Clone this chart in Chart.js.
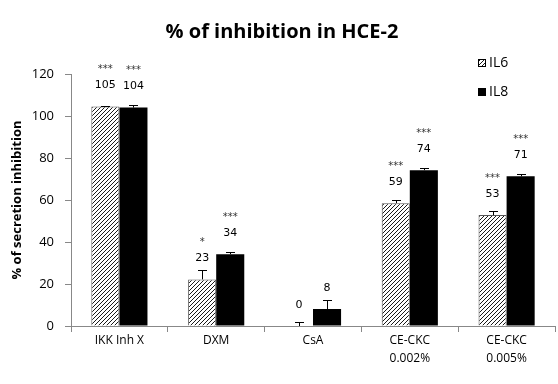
<!DOCTYPE html>
<html>
<head>
<meta charset="utf-8">
<script src="https://cdn.jsdelivr.net/npm/chart.js@4/dist/chart.umd.min.js"></script>
<style>
html,body{margin:0;padding:0;background:#fff;}
#wrap{width:558px;height:384px;}
</style>
</head>
<body>
<div id="wrap"><canvas id="c" width="558" height="384"></canvas></div>
<script>
const categories = [["IKK Inh X"], ["DXM"], ["CsA"], ["CE-CKC", "0.002%"], ["CE-CKC", "0.005%"]];
const seriesNames = ["IL6", "IL8"];
const il6Values = [104.5, 22.2, 0, 58.5, 52.8];
const il8Values = [104, 34.2, 8.1, 74.2, 71.3];
const il6Errors = [0.5, 4.5, 1.9, 1.5, 2.0];
const il8Errors = [1.3, 1.0, 4.3, 1.2, 1.0];
const il6Labels = ["105", "23", "0", "59", "53"];
const il8Labels = ["104", "34", "8", "74", "71"];
const il6Stars = ["***", "*", "", "***", "***"];
const il8Stars = ["***", "***", "", "***", "***"];
const yTicks = [0, 20, 40, 60, 80, 100, 120];

function hatch() {
  const c = document.createElement('canvas');
  c.width = 4; c.height = 4;
  const x = c.getContext('2d');
  x.fillStyle = '#fff'; x.fillRect(0, 0, 4, 4);
  x.strokeStyle = '#000'; x.lineWidth = 0.9;
  x.beginPath();
  x.moveTo(-1, 5); x.lineTo(5, -1);
  x.moveTo(-1, 1); x.lineTo(1, -1);
  x.moveTo(3, 5); x.lineTo(5, 3);
  x.stroke();
  return x.createPattern(c, 'repeat');
}
const hatchPattern = hatch();

const errorsPlugin = {
  id: 'errs',
  afterDatasetsDraw(chart) {
    const ctx = chart.ctx, y = chart.scales.y;
    const errs = [il6Errors, il8Errors];
    const labs = [il6Labels, il8Labels];
    const stars = [il6Stars, il8Stars];
    ctx.save();
    chart.data.datasets.forEach((ds, di) => {
      const meta = chart.getDatasetMeta(di);
      meta.data.forEach((bar, i) => {
        const v = ds.data[i];
        const top = y.getPixelForValue(v);
        const et = y.getPixelForValue(v + errs[di][i]);
        ctx.strokeStyle = '#000'; ctx.lineWidth = 1;
        ctx.beginPath();
        ctx.moveTo(Math.round(bar.x) + 0.5, top);
        ctx.lineTo(Math.round(bar.x) + 0.5, Math.round(et) + 0.5);
        ctx.moveTo(Math.round(bar.x) - 4, Math.round(et) + 0.5);
        ctx.lineTo(Math.round(bar.x) + 5, Math.round(et) + 0.5);
        ctx.stroke();
        ctx.fillStyle = '#000';
        ctx.textAlign = 'center'; ctx.textBaseline = 'middle';
        ctx.font = '11px "DejaVu Sans"';
        const ly = top - 21;
        ctx.fillText(labs[di][i], bar.x, ly);
        ctx.fillStyle = '#333';
        ctx.font = '10px "DejaVu Sans"';
        if (stars[di][i]) ctx.fillText(stars[di][i], bar.x, ly - 16);
      });
    });
    // legend
    ctx.font = '14px "Open Sans"';
    ctx.textAlign = 'left'; ctx.textBaseline = 'middle';
    const items = [[hatchPattern, 63], ['#000', 92]];
    items.forEach((it, k) => {
      ctx.fillStyle = it[0];
      ctx.fillRect(478, it[1] - 4, 8, 8);
      ctx.strokeStyle = '#000'; ctx.lineWidth = 1;
      ctx.strokeRect(478.5, it[1] - 3.5, 7, 7);
      ctx.fillStyle = '#000';
      ctx.fillText(seriesNames[k], 489, it[1]);
    });
    ctx.restore();
  }
};

new Chart(document.getElementById('c'), {
  type: 'bar',
  data: {
    labels: categories,
    datasets: [
      { label: seriesNames[0], data: il6Values, backgroundColor: hatchPattern, borderColor: '#555', borderWidth: 1, barPercentage: 1, categoryPercentage: 0.58 },
      { label: seriesNames[1], data: il8Values, backgroundColor: '#000', borderColor: '#000', borderWidth: 0, barPercentage: 1, categoryPercentage: 0.58 }
    ]
  },
  options: {
    responsive: false,
    animation: false,
    devicePixelRatio: 1,
    layout: { padding: { left: 9, right: 3, top: 0, bottom: 0 } },
    plugins: {
      legend: { display: false },
      tooltip: { enabled: false },
      title: {
        display: true,
        text: '% of inhibition in HCE-2',
        color: '#000',
        font: { family: 'Open Sans', size: 20, weight: 'bold' },
        padding: { top: 20, bottom: 30 }
      }
    },
    scales: {
      x: {
        grid: { drawOnChartArea: false, drawTicks: true, tickLength: 6, color: '#888', offset: true },
        border: { color: '#888' },
        ticks: { color: '#000', font: { family: 'Open Sans', size: 12, lineHeight: 1.5 }, padding: 0 },
        afterFit(s) { s.height = 58; }
      },
      y: {
        min: 0, max: 120,
        grid: { drawOnChartArea: false, drawTicks: true, tickLength: 6, color: '#888' },
        border: { color: '#888' },
        afterBuildTicks(s) { s.ticks = yTicks.map(v => ({ value: v })); },
        ticks: { color: '#000', font: { family: 'Open Sans', size: 13 }, padding: 11 },
        title: { display: true, text: '% of secretion inhibition', color: '#000', font: { family: 'Open Sans', size: 13, weight: 'bold' }, padding: { top: 0, bottom: 0 } },
        afterFit(s) { s.width = 62; }
      }
    }
  },
  plugins: [errorsPlugin]
});
</script>
</body>
</html>
